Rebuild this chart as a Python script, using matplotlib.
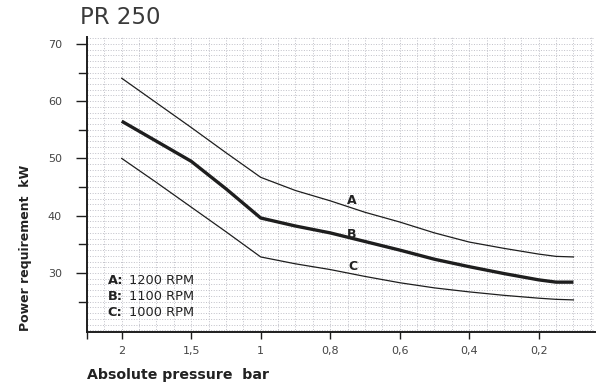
#!/usr/bin/env python3
"""
PR 250 power requirement vs absolute pressure
"""
import matplotlib
matplotlib.use("Agg")
import matplotlib.pyplot as plt
import numpy as np
from matplotlib.ticker import FixedLocator, MultipleLocator

# Data
pressure = [2.0, 1.75, 1.5, 1.25, 1.0, 0.9, 0.8, 0.7, 0.6, 0.5, 0.4, 0.3, 0.2, 0.15, 0.1]
power_a = [64.0, 59.7, 55.4, 51.0, 46.7, 44.4, 42.6, 40.6, 38.9, 37.0, 35.4, 34.3, 33.3, 32.9, 32.8]
power_b = [56.5, 53.0, 49.5, 44.7, 39.6, 38.2, 37.0, 35.5, 34.0, 32.4, 31.1, 29.9, 28.8, 28.4, 28.4]
power_c = [50.0, 45.8, 41.5, 37.2, 32.8, 31.6, 30.6, 29.4, 28.3, 27.4, 26.7, 26.1, 25.6, 25.4, 25.3]

tick_values = [2.0, 1.5, 1.0, 0.8, 0.6, 0.4, 0.2]
tick_labels = ['2', '1,5', '1', '0,8', '0,6', '0,4', '0,2']

legend_keys = ['A:', 'B:', 'C:']
legend_rpm = ['1200 RPM', '1100 RPM', '1000 RPM']

TEXT = '#222222'
LINE = '#1e1e1e'
GRID = '#c0c0c8'


# piecewise scale: 0.5 bar per division above 1 bar, 0.2 bar per division below
def fwd(p):
    return np.interp(p, [-1.0, 1.0, 4.0], [-5.0, 5.0, 11.0])


def inv(g):
    return np.interp(g, [-5.0, 5.0, 11.0], [-1.0, 1.0, 4.0])


fig = plt.figure(figsize=(5.99, 3.85), dpi=100)
ax = fig.add_axes([0.1452, 0.1377, 0.8481, 0.7662])
ax.set_xscale('function', functions=(fwd, inv))
ax.set_xlim(2.25, 0.038)
ax.set_ylim(19.7, 71.2)

# grid
minor_x = list(np.arange(0.05, 1.0, 0.05)) + list(np.arange(1.125, 2.25, 0.125))
ax.xaxis.set_major_locator(FixedLocator(tick_values + [2.25]))
ax.set_xticklabels(tick_labels + [''])
ax.xaxis.set_minor_locator(FixedLocator(minor_x))
ax.yaxis.set_major_locator(FixedLocator([30, 40, 50, 60, 70]))
ax.yaxis.set_minor_locator(MultipleLocator(1))
ax.grid(which='both', color=GRID, linestyle=':', linewidth=0.7)
ax.tick_params(axis='x', which='minor', length=0)
ax.tick_params(axis='y', which='minor', length=0)
for yv in [25, 35, 45, 55, 65]:
    ax.plot([-0.016, 0], [yv, yv], transform=ax.get_yaxis_transform(),
            color=LINE, lw=1.0, clip_on=False)

ax.tick_params(axis='both', which='major', direction='out', width=1.0,
               color=LINE, labelsize=8, labelcolor='#444444')
ax.tick_params(axis='y', length=8, pad=10)
ax.tick_params(axis='x', length=5, pad=5)

for side in ['top', 'right']:
    ax.spines[side].set_visible(False)
for side in ['left', 'bottom']:
    ax.spines[side].set_linewidth(1.4)
    ax.spines[side].set_color(LINE)

# curves
ax.plot(pressure, power_a, color=LINE, lw=0.9)
ax.plot(pressure, power_b, color=LINE, lw=2.4, solid_capstyle='butt')
ax.plot(pressure, power_c, color=LINE, lw=0.9)

ax.text(0.738, 42.6, 'A', fontsize=9, fontweight='bold', color=TEXT, ha='center', va='center')
ax.text(0.738, 36.8, 'B', fontsize=9, fontweight='bold', color=TEXT, ha='center', va='center')
ax.text(0.735, 31.1, 'C', fontsize=9, fontweight='bold', color=TEXT, ha='center', va='center')

# rpm key
for i, (k, r) in enumerate(zip(legend_keys, legend_rpm)):
    yy = 0.173 - i * 0.053
    ax.text(0.041, yy, k, transform=ax.transAxes, fontsize=9.3, fontweight='bold',
            color=TEXT, ha='left', va='center')
    ax.text(0.082, yy, r, transform=ax.transAxes, fontsize=9.3,
            color=TEXT, ha='left', va='center')

fig.text(80 / 599, 1 - 18 / 385, 'PR 250', fontsize=16.5, color='#3a3a3a',
         ha='left', va='center')
fig.text(26 / 599, 1 - 248 / 385, 'Power requirement  kW', fontsize=9, fontweight='bold',
         color=TEXT, rotation=90, ha='center', va='center')
fig.text(87 / 599, 1 - 375 / 385, 'Absolute pressure  bar', fontsize=10.2, fontweight='bold',
         color=TEXT, ha='left', va='center')

fig.savefig('out.png', dpi=100, facecolor='white')
plt.close(fig)
